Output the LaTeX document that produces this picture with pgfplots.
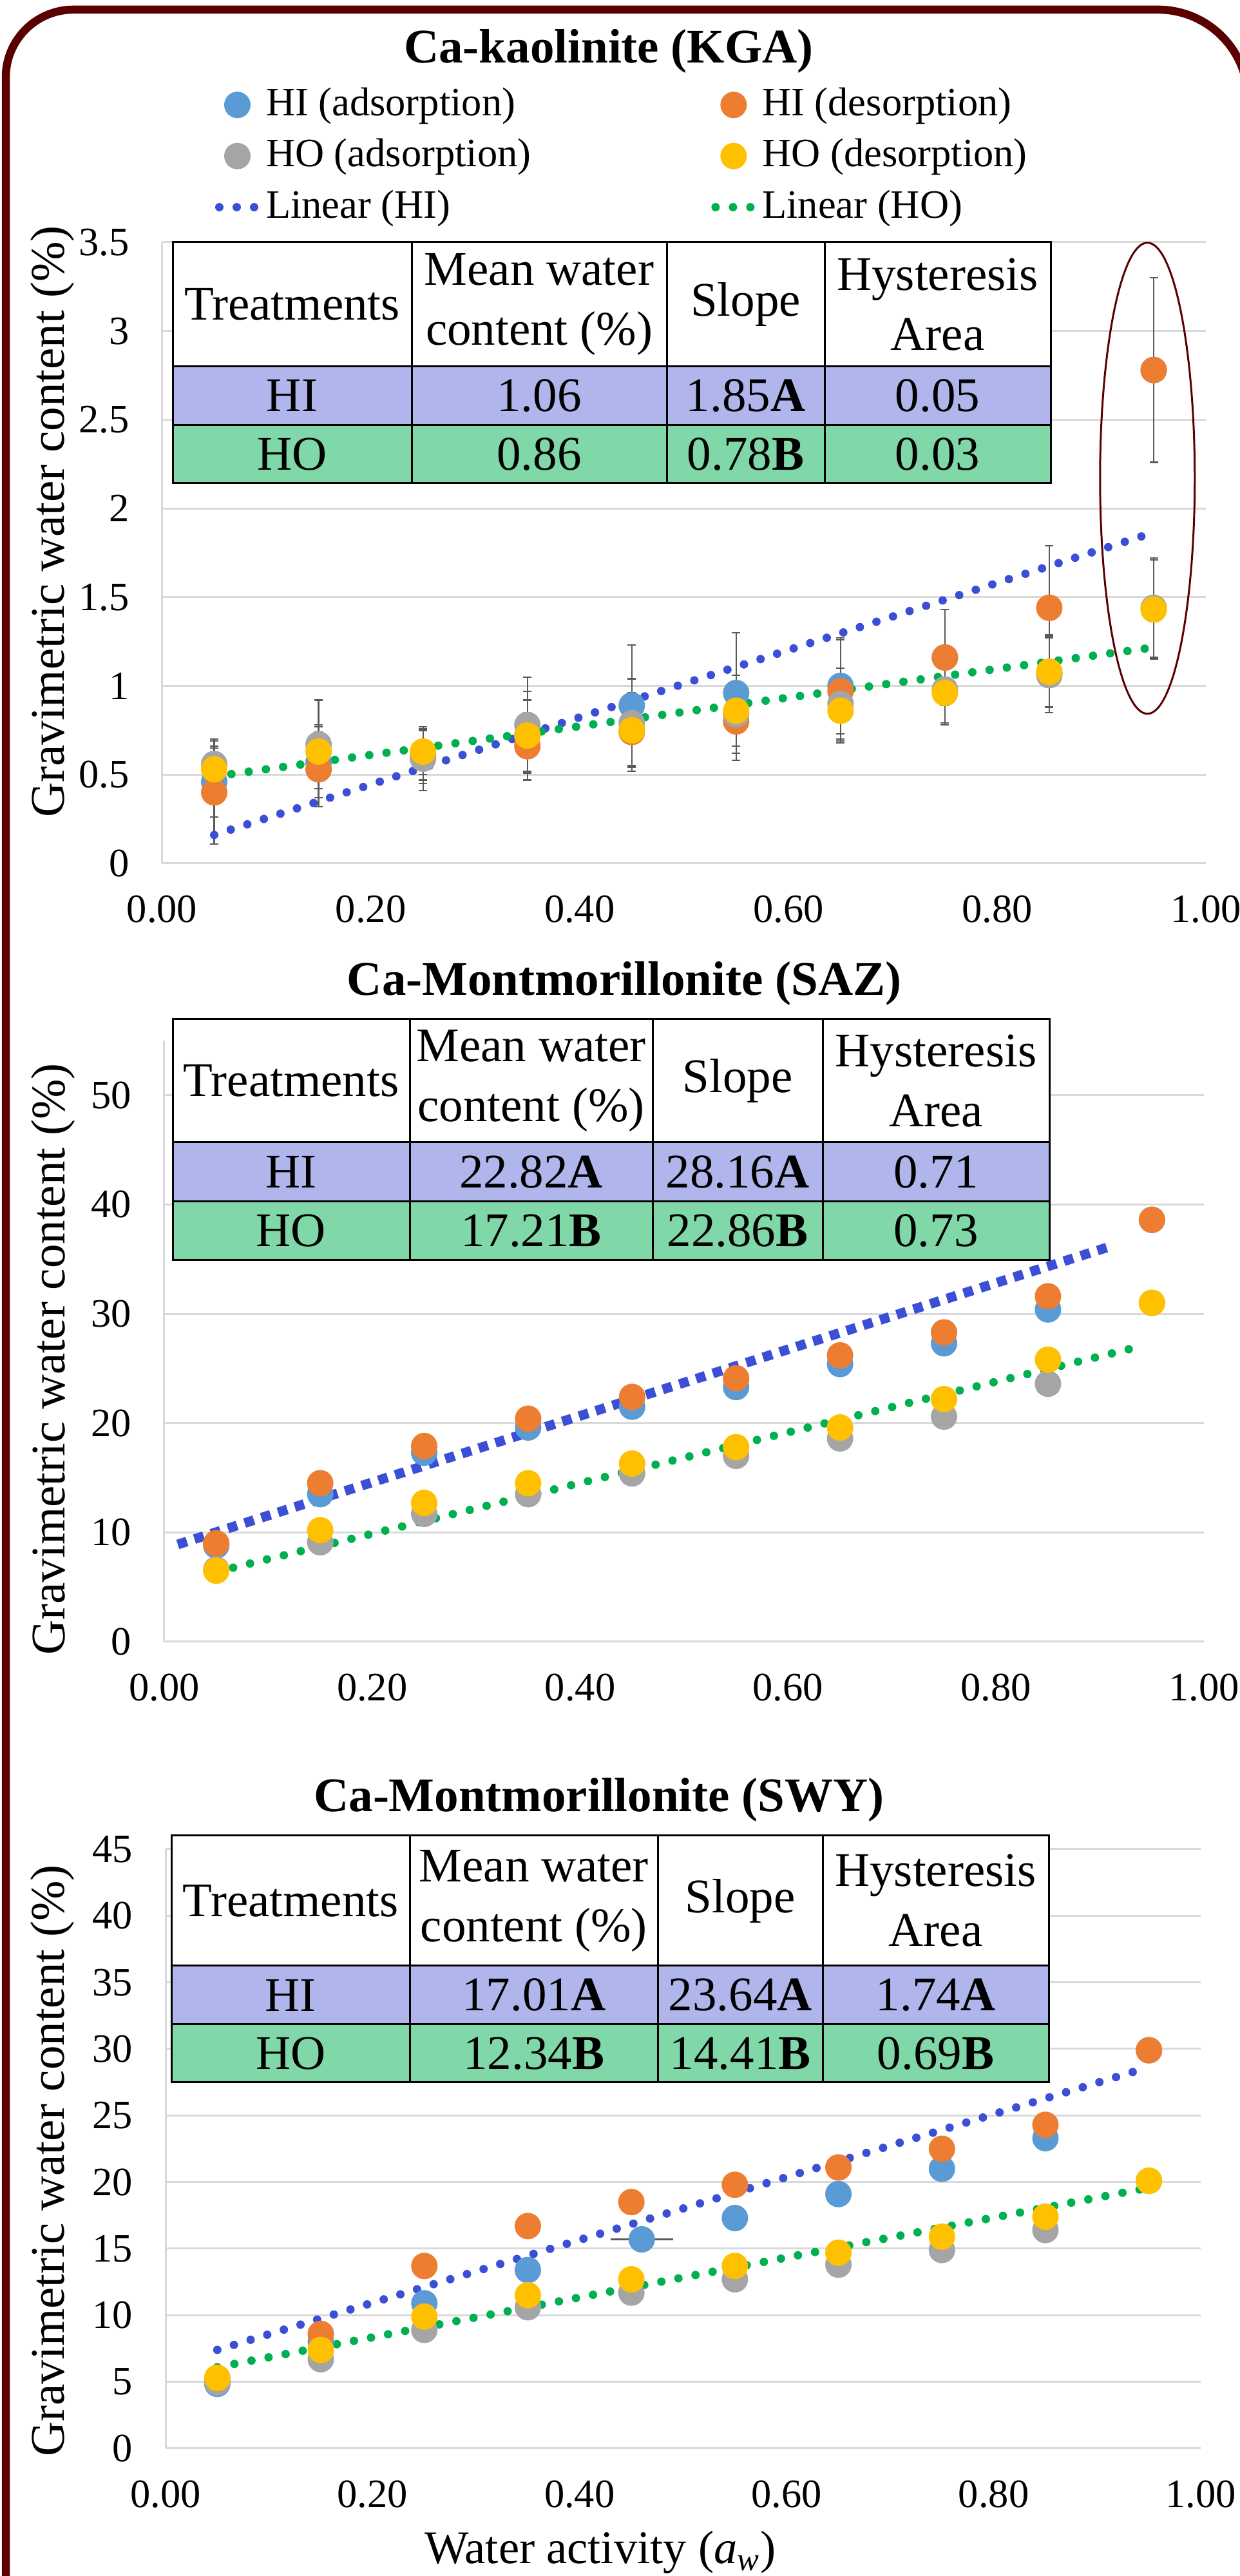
\documentclass[border=0pt]{standalone}
\usepackage{fontspec}
\setmainfont{Liberation Serif}
\usepackage{pgfplots}
\pgfplotsset{compat=1.18}
\usetikzlibrary{calc}

\definecolor{cblue}{HTML}{5B9BD5}
\definecolor{corange}{HTML}{ED7D31}
\definecolor{cgray}{HTML}{A5A5A5}
\definecolor{cyellow}{HTML}{FFC000}
\definecolor{trendblue}{HTML}{3B4FD6}
\definecolor{trendgreen}{HTML}{00B050}
\definecolor{framec}{HTML}{5A0000}
\definecolor{hifill}{HTML}{B0B6EC}
\definecolor{hofill}{HTML}{80D8A8}
\definecolor{gridc}{HTML}{D9D9D9}
\definecolor{errc}{HTML}{595959}

\newcommand{\tickfont}{\fontsize{12.5}{15}\selectfont}
\newcommand{\tabfont}{\fontsize{15}{18.6}\selectfont}
\newcommand{\titlefont}{\fontsize{15}{18}\selectfont\bfseries}

\pgfplotsset{
  panel/.style={
    scale only axis, xmin=0, xmax=1,
    axis lines=left, axis line style={-, draw=gridc, line width=0.6pt},
    major tick length=0pt,
    xtick={0,0.2,0.4,0.6,0.8,1},
    xticklabel style={/pgf/number format/fixed, /pgf/number format/fixed zerofill, /pgf/number format/precision=2, yshift=-6.4pt},
    /pgf/number format/assume math mode=true,
    tick label style={font=\tickfont},
    ymajorgrids, grid style={draw=gridc, line width=0.6pt},
    yticklabel style={xshift=-6.7pt},
    ylabel={Gravimetric water content (\%)},
    every axis y label/.style={rotate=90, anchor=center, font=\fontsize{15}{18}\selectfont},
    clip=false,
  },
  dots/.style={only marks, mark=*, mark size=3.9pt},
  ebar/.style={error bars/.cd, y dir=both, y explicit,
    error bar style={draw=errc, line width=0.45pt},
    error mark options={rotate=90, draw=errc, mark size=1.3pt, line width=0.45pt}},
  rounddots/.style={line width=2.6pt, line cap=round, dash pattern=on 0pt off 5.4pt},
  markimg/.style={legend image code/.code={\draw[##1] plot coordinates {(5.6pt,0pt)};}},
  lineimg/.style={legend image code/.code={\draw[##1] (0pt,0pt) -- (11.2pt,0pt);}},
}

% table: \xa..\xe column edges, \ya top, \yb header bottom, \yc HI bottom, \yd HO bottom
\newcommand{\drawtable}[6]{%
  \fill[white] (\xa,\yb) rectangle (\xe,\ya);
  \fill[hifill] (\xa,\yc) rectangle (\xe,\yb);
  \fill[hofill] (\xa,\yd) rectangle (\xe,\yc);
  \draw[line width=0.6pt] (\xa,\yd) rectangle (\xe,\ya);
  \draw[line width=0.6pt] (\xa,\yb) -- (\xe,\yb) (\xa,\yc) -- (\xe,\yc);
  \foreach \xx in {\xb,\xc,\xd} \draw[line width=0.6pt] (\xx,\ya) -- (\xx,\yd);
  \node[font=\tabfont, align=center] at ($(\xa,\ya)!0.5!(\xb,\yb)$) {Treatments};
  \node[font=\tabfont, align=center] at ($(\xb,\ya)!0.5!(\xc,\yb)$) {Mean water\\content (\%)};
  \node[font=\tabfont, align=center] at ($(\xc,\ya)!0.5!(\xd,\yb)$) {Slope};
  \node[font=\tabfont, align=center] at ($(\xd,\ya)!0.5!(\xe,\yb)$) {Hysteresis\\Area};
  \node[font=\tabfont] at ($(\xa,\yb)!0.5!(\xb,\yc)$) {HI};
  \node[font=\tabfont] at ($(\xb,\yb)!0.5!(\xc,\yc)$) {#1};
  \node[font=\tabfont] at ($(\xc,\yb)!0.5!(\xd,\yc)$) {#2};
  \node[font=\tabfont] at ($(\xd,\yb)!0.5!(\xe,\yc)$) {#3};
  \node[font=\tabfont] at ($(\xa,\yc)!0.5!(\xb,\yd)$) {HO};
  \node[font=\tabfont] at ($(\xb,\yc)!0.5!(\xc,\yd)$) {#4};
  \node[font=\tabfont] at ($(\xc,\yc)!0.5!(\xd,\yd)$) {#5};
  \node[font=\tabfont] at ($(\xd,\yc)!0.5!(\xe,\yd)$) {#6};
}

\begin{document}
\begin{tikzpicture}
\useasboundingbox (0,0) rectangle (385pt,799.6pt);
\clip (0,0) rectangle (385pt,799.6pt);

% outer frame
\draw[framec, line width=2.5pt] (1.8pt,-20pt) -- (1.8pt,775.6pt)
  arc[start angle=180, end angle=90, radius=21pt] -- (359.5pt,796.6pt)
  arc[start angle=90, end angle=0, radius=28pt] -- (387.5pt,-20pt);

% ---------------- Ca-kaolinite (KGA)
\begin{axis}[panel, at={(50.3pt,531.6pt)}, anchor=south west,
  width=324.1pt, height=192.8pt, ymin=0, ymax=3.5,
  ytick={0,0.5,1,1.5,2,2.5,3,3.5},
  every axis y label/.append style={at={(axis description cs:-0.105,0.55)}},
  legend columns=2, legend cell align=left,
  legend style={draw=none, fill=none, inner sep=0pt,
    at={(axis description cs:0.0503,1.255)}, anchor=north west,
    font=\tickfont, nodes={inner sep=1pt, text depth=0.2em}, row sep=3.2pt,
    /tikz/every odd column/.append style={column sep=1pt},
    /tikz/every even column/.append style={column sep=55pt}},
]
\addplot[dots, color=cblue, markimg, ebar] coordinates {
  (0.05,0.46) +- (0,0.20) (0.15,0.57) +- (0,0.20) (0.25,0.60) +- (0,0.15)
  (0.35,0.72) +- (0,0.25) (0.45,0.89) +- (0,0.34) (0.55,0.96) +- (0,0.34)
  (0.65,1.00) +- (0,0.27) (0.75,1.16) +- (0,0.27) (0.85,1.07) +- (0,0.22)
  (0.95,2.78) +- (0,0.52)};
\addlegendentry{HI (adsorption)}
\addplot[dots, color=corange, markimg, ebar] coordinates {
  (0.05,0.40) +- (0,0.29) (0.15,0.53) +- (0,0.21) (0.25,0.62) +- (0,0.15)
  (0.35,0.66) +- (0,0.19) (0.45,0.74) +- (0,0.22) (0.55,0.80) +- (0,0.22)
  (0.65,0.97) +- (0,0.29) (0.75,1.16) +- (0,0.27) (0.85,1.44) +- (0,0.35)
  (0.95,2.78) +- (0,0.52)};
\addlegendentry{HI (desorption)}
\addplot[dots, color=cgray, markimg, ebar] coordinates {
  (0.05,0.56) +- (0,0.14) (0.15,0.67) +- (0,0.25) (0.25,0.59) +- (0,0.18)
  (0.35,0.78) +- (0,0.27) (0.45,0.79) +- (0,0.25) (0.55,0.84) +- (0,0.22)
  (0.65,0.90) +- (0,0.20) (0.75,0.98) +- (0,0.20) (0.85,1.06) +- (0,0.21)
  (0.95,1.44) +- (0,0.28)};
\addlegendentry{HO (adsorption)}
\addplot[dots, color=cyellow, markimg, ebar] coordinates {
  (0.05,0.53) +- (0,0.12) (0.15,0.63) +- (0,0.15) (0.25,0.63) +- (0,0.13)
  (0.35,0.72) +- (0,0.20) (0.45,0.75) +- (0,0.20) (0.55,0.86) +- (0,0.20)
  (0.65,0.86) +- (0,0.17) (0.75,0.96) +- (0,0.17) (0.85,1.08) +- (0,0.20)
  (0.95,1.43) +- (0,0.28)};
\addlegendentry{HO (desorption)}
\addplot[color=trendblue, rounddots, lineimg] coordinates {(0.05,0.16) (0.945,1.855)};
\addlegendentry{Linear (HI)}
\addplot[color=trendgreen, rounddots, lineimg] coordinates {(0.05,0.49) (0.95,1.217)};
\addlegendentry{Linear (HO)}
\draw[framec, line width=0.6pt] (axis cs:0.944,2.17) ellipse [x radius=14.7pt, y radius=73.1pt];
\end{axis}

% ---------------- Ca-Montmorillonite (SAZ)
\begin{axis}[panel, at={(51pt,290pt)}, anchor=south west,
  width=322.8pt, height=186.6pt, ymin=0, ymax=55,
  ytick={0,10,20,30,40,50},
  every axis y label/.append style={at={(axis description cs:-0.107,0.47)}},
]
\addplot[dots, color=cblue] coordinates {
  (0.05,8.8) (0.15,13.5) (0.25,17.3) (0.35,19.6) (0.45,21.5)
  (0.55,23.3) (0.65,25.4) (0.75,27.3) (0.85,30.4) (0.95,38.6)};
\addplot[dots, color=corange] coordinates {
  (0.05,9.0) (0.15,14.5) (0.25,17.9) (0.35,20.4) (0.45,22.4)
  (0.55,24.1) (0.65,26.2) (0.75,28.3) (0.85,31.6) (0.95,38.6)};
\addplot[dots, color=cgray] coordinates {
  (0.05,6.6) (0.15,9.1) (0.25,11.7) (0.35,13.5) (0.45,15.4)
  (0.55,17.0) (0.65,18.6) (0.75,20.6) (0.85,23.6) (0.95,31.0)};
\addplot[dots, color=cyellow] coordinates {
  (0.05,6.5) (0.15,10.2) (0.25,12.7) (0.35,14.5) (0.45,16.3)
  (0.55,17.8) (0.65,19.6) (0.75,22.2) (0.85,25.8) (0.95,31.0)};
\addplot[color=trendblue, line width=3pt, dash pattern=on 3pt off 2.45pt] coordinates {(0.013,8.9) (0.911,36.2)};
\addplot[color=trendgreen, rounddots] coordinates {(0.05,6.4) (0.934,26.9)};
\end{axis}

% ---------------- Ca-Montmorillonite (SWY)
\begin{axis}[panel, at={(51.4pt,39.6pt)}, anchor=south west,
  width=321.4pt, height=186pt, ymin=0, ymax=45,
  ytick={0,5,10,15,20,25,30,35,40,45},
  every axis y label/.append style={at={(axis description cs:-0.109,0.48)}},
  xlabel={Water activity (\textit{a}\textsubscript{\textit{w}})},
  every axis x label/.style={at={(axis description cs:0.42,-0.173)}, anchor=center, font=\fontsize{14.5}{17}\selectfont},
]
\addplot[dots, color=cblue, error bars/.cd, x dir=both, x explicit,
    error bar style={draw=errc, line width=0.45pt},
    error mark options={draw=errc, mark size=1.3pt, line width=0.45pt}] coordinates {
  (0.05,4.85) +- (0,0) (0.15,8.0) +- (0,0) (0.25,10.9) +- (0,0) (0.35,13.4) +- (0,0)
  (0.46,15.7) +- (0.026,0) (0.55,17.3) +- (0,0) (0.65,19.1) +- (0,0)
  (0.75,21.0) +- (0,0) (0.85,23.3) +- (0,0) (0.95,29.9) +- (0,0)};
\addplot[dots, color=corange] coordinates {
  (0.05,5.05) (0.15,8.6) (0.25,13.7) (0.35,16.7) (0.45,18.5)
  (0.55,19.8) (0.65,21.1) (0.75,22.5) (0.85,24.3) (0.95,29.9)};
\addplot[dots, color=cgray] coordinates {
  (0.05,4.95) (0.15,6.7) (0.25,8.9) (0.35,10.6) (0.45,11.7)
  (0.55,12.7) (0.65,13.8) (0.75,14.9) (0.85,16.4) (0.95,20.1)};
\addplot[dots, color=cyellow] coordinates {
  (0.05,5.3) (0.15,7.4) (0.25,9.9) (0.35,11.5) (0.45,12.7)
  (0.55,13.7) (0.65,14.7) (0.75,15.9) (0.85,17.4) (0.95,20.1)};
\addplot[color=trendblue, rounddots] coordinates {(0.05,7.4) (0.94,28.4)};
\addplot[color=trendgreen, rounddots] coordinates {(0.05,6.1) (0.948,19.55)};
\end{axis}

% titles
\node[font=\titlefont, anchor=base] at (189pt,780pt) {Ca-kaolinite (KGA)};
\node[font=\titlefont, anchor=base] at (193.8pt,490.7pt) {Ca-Montmorillonite (SAZ)};
\node[font=\titlefont, anchor=base] at (186pt,237.2pt) {Ca-Montmorillonite (SWY)};

% tables
\def\xa{53.6pt}\def\xb{127.8pt}\def\xc{207pt}\def\xd{256pt}\def\xe{326.2pt}
\def\ya{724.4pt}\def\yb{685.8pt}\def\yc{667.6pt}\def\yd{649.6pt}
\drawtable{1.06}{1.85\textbf{A}}{0.05}{0.86}{0.78\textbf{B}}{0.03}

\def\xa{53.6pt}\def\xb{127.2pt}\def\xc{202.6pt}\def\xd{255.4pt}\def\xe{325.8pt}
\def\ya{483.2pt}\def\yb{445pt}\def\yc{426.6pt}\def\yd{408.5pt}
\drawtable{22.82\textbf{A}}{28.16\textbf{A}}{0.71}{17.21\textbf{B}}{22.86\textbf{B}}{0.73}

\def\xa{53.3pt}\def\xb{127.2pt}\def\xc{204.3pt}\def\xd{255.4pt}\def\xe{325.6pt}
\def\ya{229.8pt}\def\yb{189.4pt}\def\yc{171.2pt}\def\yd{153.2pt}
\drawtable{17.01\textbf{A}}{23.64\textbf{A}}{1.74\textbf{A}}{12.34\textbf{B}}{14.41\textbf{B}}{0.69\textbf{B}}
\end{tikzpicture}
\end{document}
